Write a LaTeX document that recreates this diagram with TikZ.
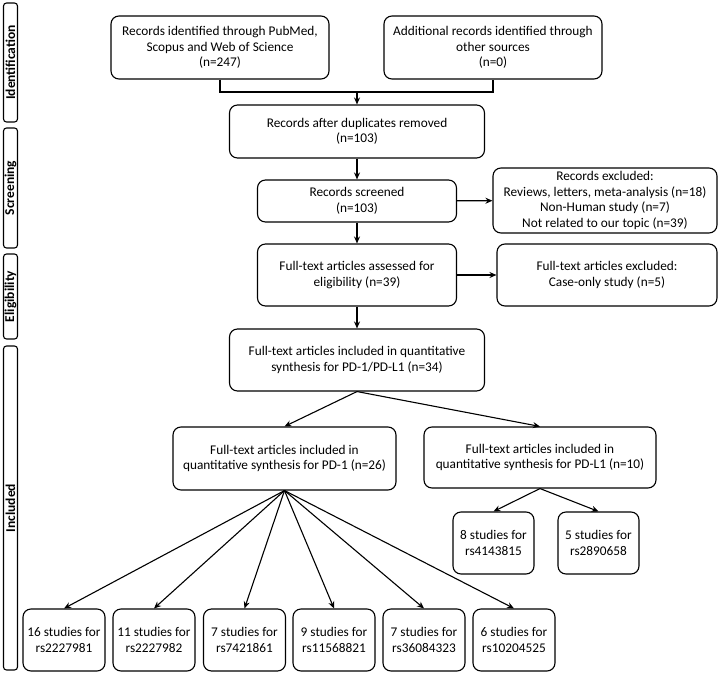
\documentclass[tikz,border=0pt]{standalone}
\usepackage{fontspec}
\setmainfont{Carlito}
\usetikzlibrary{arrows.meta}
\tikzset{
  flowbox/.style={draw=black, line width=1.1pt, rounded corners=8pt, align=center, inner sep=2pt, font=\fontsize{13.3}{15.5}\selectfont},
  phase/.style={draw=black, line width=1.1pt, rounded corners=3pt, inner sep=0pt, minimum width=14pt, font=\fontsize{13.5}{14}\selectfont\bfseries},
  flow/.style={line width=1.1pt, -{Stealth[length=7pt,width=6pt]}}
}
\begin{document}
\begin{tikzpicture}[x=1pt, y=-1pt]
  \useasboundingbox (0,0) rectangle (720,677);
  % phases
  \node[phase, minimum height=119pt] (iden) at (10.5,62.5) {\rotatebox{90}{Identification}};
  \node[phase, minimum height=120pt] (scrn) at (10.5,188) {\rotatebox{90}{Screening}};
  \node[phase, minimum height=85pt] (elig) at (10.5,296.5) {\rotatebox{90}{Eligibility}};
  \node[phase, minimum height=324pt] (incl) at (10.5,508) {\rotatebox{90}{Included}};
  % main flow
  \node[flowbox, minimum width=218pt, minimum height=63pt] (rec) at (220,47.5) {Records identified through PubMed,\\Scopus and Web of Science\\(n=247)};
  \node[flowbox, minimum width=218pt, minimum height=63pt] (add) at (493,47.5) {Additional records identified through\\other sources\\(n=0)};
  \node[flowbox, minimum width=255pt, minimum height=53pt] (dup) at (357,131.5) {Records after duplicates removed\\(n=103)};
  \node[flowbox, minimum width=199pt, minimum height=42pt] (scr) at (357,201) {Records screened\\(n=103)};
  \node[flowbox, minimum width=224pt, minimum height=65pt] (exc) at (605,200.5) {Records excluded:\\Reviews, letters, meta-analysis (n=18)\\Non-Human study (n=7)\\Not related to our topic (n=39)};
  \node[flowbox, minimum width=199pt, minimum height=62pt] (assess) at (357,275) {Full-text articles assessed for\\eligibility (n=39)};
  \node[flowbox, minimum width=220pt, minimum height=62pt] (ftexc) at (607,275) {Full-text articles excluded:\\Case-only study (n=5)};
  \node[flowbox, minimum width=255pt, minimum height=62pt] (inc) at (357,360) {Full-text articles included in quantitative\\synthesis for PD-1/PD-L1 (n=34)};
  \node[flowbox, minimum width=223pt, minimum height=63pt] (pd1) at (284.5,458.5) {Full-text articles included in\\quantitative synthesis for PD-1 (n=26)};
  \node[flowbox, minimum width=232pt, minimum height=61pt] (pdl1) at (540,457.5) {Full-text articles included in\\quantitative synthesis for PD-L1 (n=10)};
  % studies
  \foreach \n/\x/\k/\rs in {1/64/16/rs2227981, 2/154/11/rs2227982, 3/244.5/7/rs7421861, 4/334/9/rs11568821, 5/424/7/rs36084323, 6/514/6/rs10204525}
    \node[flowbox, minimum width=82pt, minimum height=62pt] (s\n) at (\x,640) {\k\ studies for\\\rs};
  \node[flowbox, minimum width=81pt, minimum height=62pt] (l1) at (493.5,543) {8 studies for\\rs4143815};
  \node[flowbox, minimum width=81pt, minimum height=62pt] (l2) at (598.5,543) {5 studies for\\rs2890658};
  % connectors
  \coordinate (join) at (357,92);
  \draw[line width=1.1pt] (rec.south) |- (join) -| (add.south);
  \draw[flow] (join) -- (dup.north);
  \draw[flow] (dup) -- (scr);
  \draw[flow] (scr) -- (exc);
  \draw[flow] (scr) -- (assess);
  \draw[flow] (assess) -- (ftexc);
  \draw[flow] (assess) -- (inc);
  \draw[flow] (inc.south) -- (pd1.north);
  \draw[flow] (inc.south) -- (pdl1.north);
  \foreach \n in {1,...,6}
    \draw[flow] (pd1.south) -- (s\n.north);
  \draw[flow] (pdl1.south) -- (l1.north);
  \draw[flow] (pdl1.south) -- (l2.north);
\end{tikzpicture}
\end{document}
